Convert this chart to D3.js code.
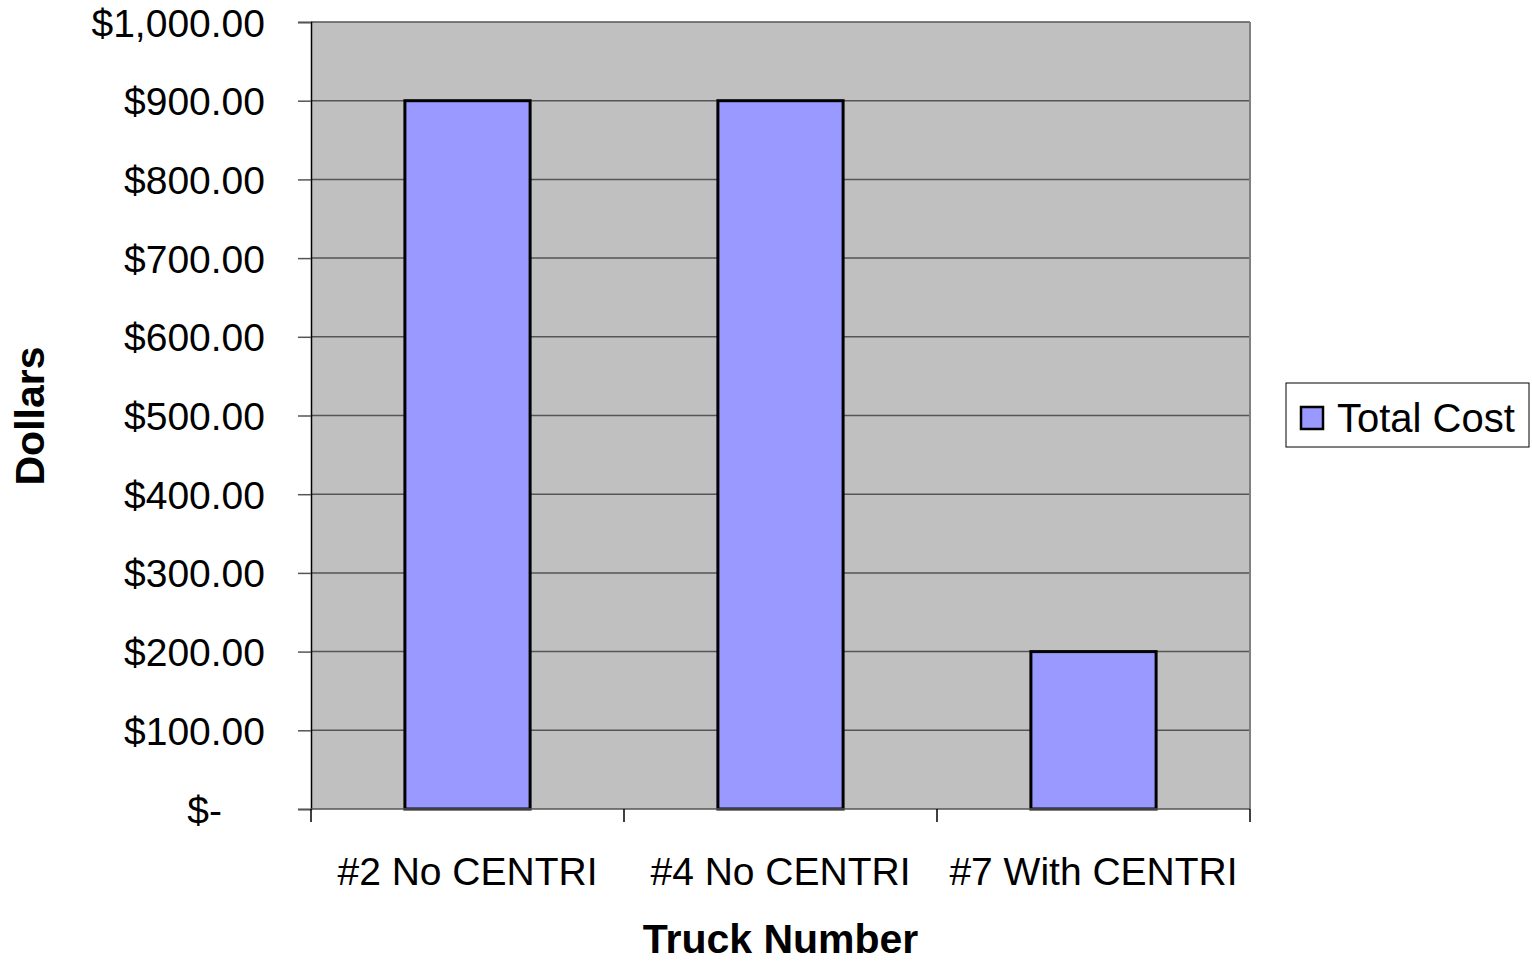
<!DOCTYPE html>
<html>
<head>
<meta charset="utf-8">
<script src="https://cdn.jsdelivr.net/npm/d3@7"></script>
<style>
  body { margin: 0; background: #fff; }
  text { font-family: "Liberation Sans", Arial, sans-serif; }
</style>
</head>
<body>
<script>
const categories = ["#2 No CENTRI", "#4 No CENTRI", "#7 With CENTRI"];
const totalCost = [900, 900, 200];
const yTicks = [0, 100, 200, 300, 400, 500, 600, 700, 800, 900, 1000];
const seriesName = "Total Cost";

const width = 1532, height = 964;
const margin = { top: 22, right: 282, bottom: 155, left: 311 };
const innerW = width - margin.left - margin.right;
const innerH = height - margin.top - margin.bottom;

const svg = d3.select("body").append("svg")
  .attr("width", width)
  .attr("height", height);

const g = svg.append("g")
  .attr("transform", `translate(${margin.left},${margin.top})`);

const x = d3.scaleBand()
  .domain(categories)
  .range([0, innerW])
  .paddingInner(0.6)
  .paddingOuter(0.3);

const y = d3.scaleLinear()
  .domain([0, 1000])
  .range([innerH, 0]);

// plot background
g.append("rect")
  .attr("width", innerW)
  .attr("height", innerH)
  .attr("fill", "#c0c0c0");

// gridlines
g.selectAll(".grid")
  .data(yTicks.filter(d => d > 0))
  .enter()
  .append("line")
  .attr("x1", 0)
  .attr("x2", innerW)
  .attr("y1", d => y(d))
  .attr("y2", d => y(d))
  .attr("stroke", "#555")
  .attr("stroke-width", 1.5);

// right border
g.append("line")
  .attr("x1", innerW).attr("x2", innerW)
  .attr("y1", 0).attr("y2", innerH)
  .attr("stroke", "#808080")
  .attr("stroke-width", 2);

// bars
g.selectAll(".bar")
  .data(totalCost)
  .enter()
  .append("rect")
  .attr("x", (d, i) => x(categories[i]))
  .attr("y", d => y(d))
  .attr("width", x.bandwidth())
  .attr("height", d => innerH - y(d))
  .attr("fill", "#9999ff")
  .attr("stroke", "#000")
  .attr("stroke-width", 3);

// y axis
const fmt = d => d === 0 ? "$-" : "$" + d3.format(",.2f")(d);
const yAxis = g.append("g")
  .call(d3.axisLeft(y).tickValues(yTicks).tickFormat(fmt).tickSize(13).tickPadding(33));
yAxis.select(".domain").attr("stroke", "#000").attr("stroke-width", 1.5);
yAxis.selectAll(".tick line").attr("stroke", "#555").attr("stroke-width", 1.5);
yAxis.selectAll(".tick text")
  .attr("font-size", 39)
  .attr("fill", "#000")
  .attr("dy", "0.36em")
  .style("font-family", "'Liberation Sans', Arial, sans-serif");
// accounting format: the dash sits left of the decimal column
yAxis.selectAll(".tick").filter(d => d === 0).select("text").attr("x", -89);

// x axis (ticks on category boundaries)
const boundaries = d3.range(categories.length + 1).map(i => i * innerW / categories.length);
const xAxis = g.append("g").attr("transform", `translate(0,${innerH})`);
xAxis.append("line")
  .attr("x1", 0).attr("x2", innerW)
  .attr("stroke", "#555").attr("stroke-width", 1.5);
xAxis.selectAll(".xtick")
  .data(boundaries)
  .enter()
  .append("line")
  .attr("x1", d => d).attr("x2", d => d)
  .attr("y1", 0).attr("y2", 13)
  .attr("stroke", "#000").attr("stroke-width", 1.5);
xAxis.selectAll(".xlabel")
  .data(categories)
  .enter()
  .append("text")
  .attr("x", d => x(d) + x.bandwidth() / 2)
  .attr("y", 76)
  .attr("text-anchor", "middle")
  .attr("font-size", 39)
  .text(d => d);

// axis titles
svg.append("text")
  .attr("x", margin.left + innerW / 2)
  .attr("y", 953)
  .attr("text-anchor", "middle")
  .attr("font-size", 41)
  .attr("font-weight", "bold")
  .text("Truck Number");

svg.append("text")
  .attr("transform", `translate(44,416) rotate(-90)`)
  .attr("text-anchor", "middle")
  .attr("font-size", 41)
  .attr("font-weight", "bold")
  .text("Dollars");

// legend
const legend = svg.append("g").attr("transform", "translate(1286,383)");
legend.append("rect")
  .attr("width", 243).attr("height", 64)
  .attr("fill", "#fff").attr("stroke", "#000").attr("stroke-width", 1);
legend.append("rect")
  .attr("x", 15).attr("y", 24).attr("width", 22).attr("height", 22)
  .attr("fill", "#9999ff").attr("stroke", "#000").attr("stroke-width", 2.5);
legend.append("text")
  .attr("x", 51).attr("y", 49)
  .attr("font-size", 40)
  .text(seriesName);
</script>
</body>
</html>
